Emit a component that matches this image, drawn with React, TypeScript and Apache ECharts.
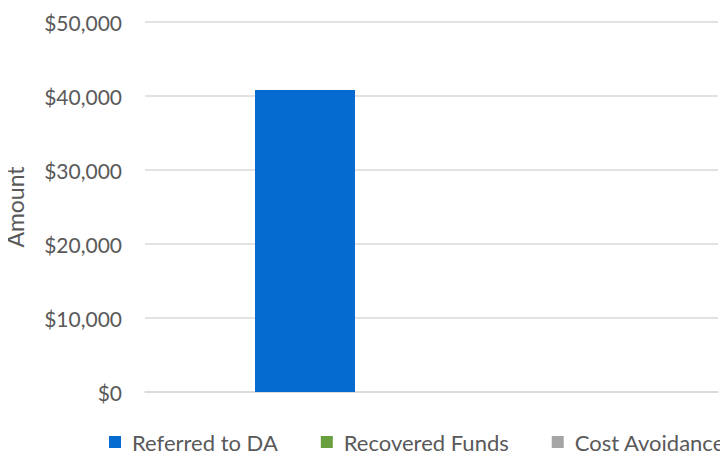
import React, { useEffect, useRef } from "react";
import * as echarts from "echarts";

const categories = [""];
const seriesNames = ["Referred to DA", "Recovered Funds", "Cost Avoidance"];
const referredToDA = [40800];
const recoveredFunds = [0];
const costAvoidance = [0];
const colors = ["#066BD0", "#6A9F40", "#A5A5A5"];

export default function App() {
  const ref = useRef<HTMLDivElement>(null);
  useEffect(() => {
    if (!ref.current) return;
    const chart = echarts.init(ref.current, undefined, { renderer: "svg" });
    const data = [referredToDA, recoveredFunds, costAvoidance];
    chart.setOption({
      animation: false,
      textStyle: { fontFamily: "Lato" },
      grid: { left: 145, right: 10, top: 22, bottom: 68, containLabel: false, outerBoundsMode: "none" },
      legend: {
        bottom: 2,
        left: 104,
        width: 720,
        itemWidth: 12,
        itemHeight: 12,
        itemGap: 43,
        icon: "rect",
        textStyle: { color: "#595959", fontSize: 22, fontFamily: "Lato", padding: [0, 0, 0, 6] },
        data: seriesNames,
      },
      xAxis: {
        type: "category",
        data: categories,
        axisLine: { lineStyle: { color: "#D9D9D9", width: 1.5 } },
        axisTick: { show: false },
        axisLabel: { show: false },
      },
      yAxis: {
        type: "value",
        min: 0,
        max: 50000,
        interval: 10000,
        name: "Amount",
        nameLocation: "middle",
        nameGap: 119,
        nameTextStyle: { color: "#595959", fontSize: 23, fontFamily: "Lato" },
        axisLine: { show: false },
        axisTick: { show: false },
        axisLabel: {
          color: "#595959",
          fontSize: 21,
          margin: 23,
          formatter: (v: number) => "$" + v.toLocaleString("en-US"),
        },
        splitLine: { lineStyle: { color: "#D9D9D9", width: 1.5 } },
      },
      series: seriesNames.map((name, i) => ({
        name,
        type: "bar",
        data: data[i],
        barWidth: 100,
        barGap: "26.5%",
        itemStyle: { color: colors[i] },
      })),
    });
    return () => chart.dispose();
  }, []);
  return <div ref={ref} style={{ width: 728, height: 460, margin: -8 }} />;
}
